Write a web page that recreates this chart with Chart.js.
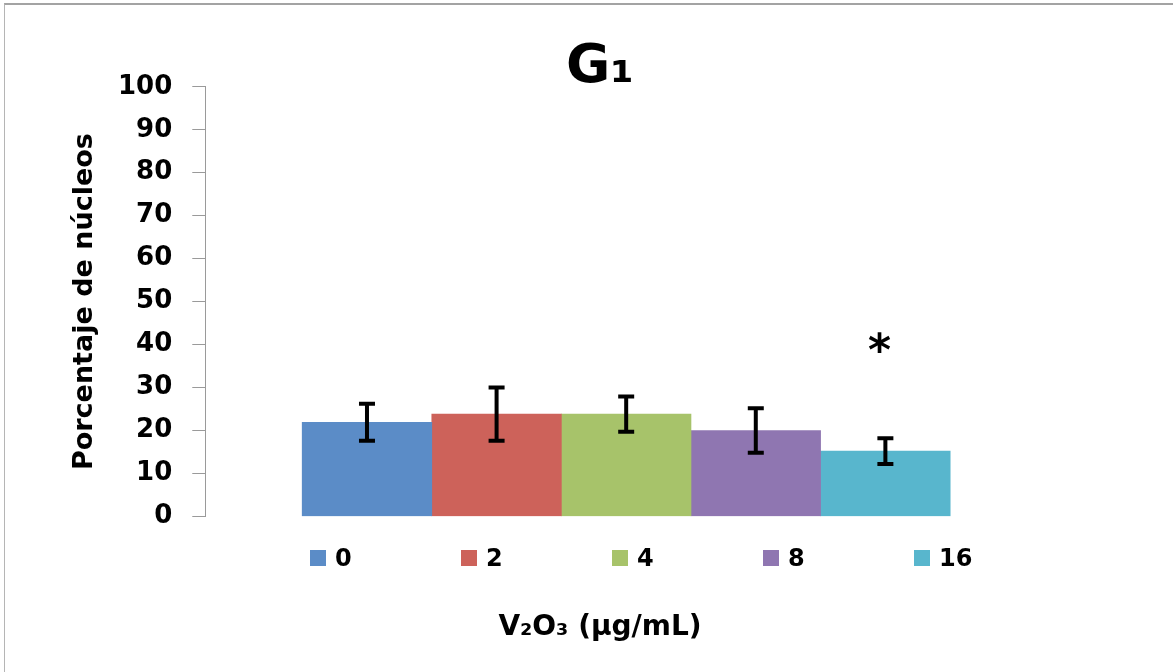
<!DOCTYPE html>
<html><head><meta charset="utf-8">
<script src="https://cdn.jsdelivr.net/npm/chart.js@4/dist/chart.umd.min.js"></script>
<style>
html,body{margin:0;padding:0;background:#fff;}
#wrap{position:relative;width:1173px;height:672px;overflow:hidden;background:#fff;}
#c{position:absolute;left:0;top:0;}
#frame{position:absolute;left:4px;top:3px;right:-10px;bottom:-10px;border-top:2px solid #a3a3a3;border-left:1px solid #b5b5b5;pointer-events:none;}
#legend{position:absolute;left:310px;top:544px;display:flex;font:bold 24px 'DejaVu Sans';color:#000;}
#legend .item{display:flex;align-items:center;width:151px;}
#legend .sw{width:16px;height:16px;margin-right:9px;}
</style></head>
<body><div id="wrap"><canvas id="c" width="1173" height="672"></canvas><div id="legend"></div><div id="frame"></div></div>
<script>
// ---- data ----
const categories = ['0', '2', '4', '8', '16'];
const means = [21.9, 23.8, 23.8, 20.0, 15.2];
const errors = [4.3, 6.2, 4.1, 5.2, 3.0];
const significance = ['', '', '', '', '*'];
const yTickValues = [0, 10, 20, 30, 40, 50, 60, 70, 80, 90, 100];
const colors = ['#5b8cc7', '#cd625a', '#a7c36a', '#8f76b1', '#58b6cd'];
const titleText = 'G\u2081';
const yTitle = 'Porcentaje de núcleos';
const xTitle = 'V\u2082O\u2083 (µg/mL)';
const STAR_LEVEL = 40;

const FONT = "'DejaVu Sans'";

const datasets = categories.map((c, i) => ({
  label: c,
  data: [{ x: 0, y: means[i] }],
  backgroundColor: colors[i],
  borderWidth: 0
}));

const errorBars = {
  id: 'errorBars',
  afterDatasetsDraw(chart) {
    const ctx = chart.ctx, y = chart.scales.y;
    ctx.save();
    ctx.strokeStyle = '#000';
    ctx.lineWidth = 4;
    ctx.lineCap = 'butt';
    chart.data.datasets.forEach((ds, i) => {
      const el = chart.getDatasetMeta(i).data[0];
      const x = el.x;
      const top = y.getPixelForValue(means[i] + errors[i]);
      const bot = y.getPixelForValue(means[i] - errors[i]);
      ctx.beginPath();
      ctx.moveTo(x, top); ctx.lineTo(x, bot);
      ctx.moveTo(x - 8, top); ctx.lineTo(x + 8, top);
      ctx.moveTo(x - 8, bot); ctx.lineTo(x + 8, bot);
      ctx.stroke();
      if (significance[i]) {
        ctx.fillStyle = '#000';
        ctx.font = 'bold 44px ' + FONT;
        ctx.textAlign = 'center';
        ctx.textBaseline = 'middle';
        ctx.fillText(significance[i], x - 6, y.getPixelForValue(STAR_LEVEL) + 9);
      }
    });
    ctx.restore();
  }
};

const htmlLegend = {
  id: 'htmlLegend',
  afterUpdate(chart) {
    const box = document.getElementById('legend');
    box.innerHTML = '';
    chart.data.datasets.forEach(ds => {
      const it = document.createElement('div'); it.className = 'item';
      const sw = document.createElement('span'); sw.className = 'sw'; sw.style.background = ds.backgroundColor;
      const tx = document.createElement('span'); tx.textContent = ds.label;
      it.appendChild(sw); it.appendChild(tx); box.appendChild(it);
    });
  }
};

new Chart(document.getElementById('c'), {
  type: 'bar',
  data: { datasets },
  options: {
    responsive: false,
    animation: false,
    devicePixelRatio: 1,
    layout: { padding: { left: 67, right: 40, top: 0, bottom: 0 } },
    datasets: { bar: { barThickness: 129.6 } },
    scales: {
      x: { type: 'linear', display: false, min: -1, max: 1.25 },
      y: {
        min: 0, max: 100,
        afterBuildTicks(scale) { scale.ticks = yTickValues.map(v => ({ value: v })); },
        grid: { drawOnChartArea: false, drawTicks: true, tickLength: 13, color: '#9a9a9a', lineWidth: 1 },
        border: { display: true, color: '#9a9a9a', width: 1 },
        ticks: { padding: 20, color: '#000', font: { family: FONT, weight: 'bold', size: 26 } },
        title: { display: true, text: yTitle, color: '#000', padding: { top: 4, bottom: 0 },
                 font: { family: FONT, weight: 'bold', size: 27, lineHeight: 1.0 } }
      }
    },
    plugins: {
      legend: { display: false },
      tooltip: { enabled: false },
      title: { display: true, text: titleText, color: '#000',
               font: { family: FONT, weight: 'bold', size: 54, lineHeight: 0.7 },
               padding: { top: 49, bottom: 0 } },
      subtitle: { display: true, position: 'bottom', text: xTitle, color: '#000',
                  font: { family: FONT, weight: 'bold', size: 28, lineHeight: 1.2 },
                  padding: { top: 95, bottom: 27 } }
    }
  },
  plugins: [errorBars, htmlLegend]
});
</script>
</body></html>
